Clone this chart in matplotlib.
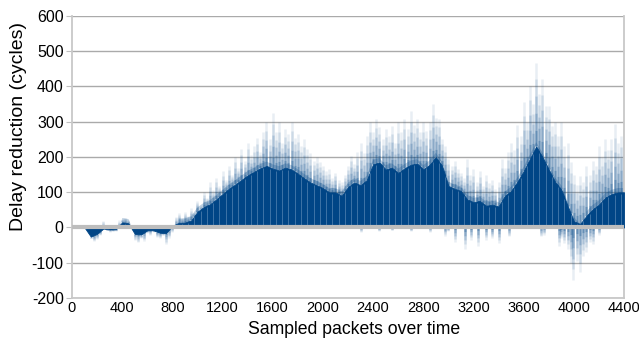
import numpy as np
import matplotlib
matplotlib.use("Agg")
import matplotlib.pyplot as plt
from matplotlib.collections import LineCollection

# ---------------- data ----------------
core_step = 50
core_vals = [0, 0, 0, -26, -18, -3, -6, -5, 15, 12,
             -18, -20, -8, -8, -15, -16, 5, 13, 14, 20,
             45, 58, 66, 80, 95, 110, 122, 135, 148, 158,
             168, 175, 167, 162, 170, 165, 153, 140, 128, 120,
             112, 100, 100, 90, 115, 128, 120, 135, 180, 185,
             165, 170, 155, 168, 178, 182, 165, 178, 200, 175,
             118, 110, 104, 80, 72, 76, 62, 65, 60, 90,
             104, 130, 160, 195, 230, 200, 165, 130, 108, 62,
             18, 10, 33, 52, 65, 85, 95, 100, 100]

spike_step = 25
spike_vals = [0, 0, 0, 0, 0, -4, -30, -38, -33, -22,
              18, -8, -12, -10, -9, 20, 24, 28, 20, 8,
              -35, -42, -30, -38, -15, -20, -12, -28, -30, -22,
              -46, -30, -12, 30, 40, 28, 45, 32, 55, 42,
              75, 60, 100, 85, 128, 105, 140, 118, 160, 135,
              175, 150, 200, 170, 222, 190, 240, 205, 230, 255,
              215, 270, 298, 250, 326, 270, 298, 240, 280, 265,
              300, 255, 265, 232, 250, 222, 210, 189, 200, 185,
              175, 160, 165, 140, 156, 135, 128, 150, 175, 204,
              180, 215, 241, 210, 260, 298, 270, 308, 285, 250,
              279, 260, 289, 240, 298, 270, 308, 280, 331, 290,
              308, 270, 298, 275, 300, 350, 310, 308, 251, 230,
              194, 175, 190, 166, 156, 140, 194, 150, 166, 130,
              160, 119, 150, 125, 135, 110, 128, 194, 170, 215,
              241, 220, 290, 260, 355, 300, 402, 350, 468, 380,
              421, 345, 345, 289, 300, 260, 298, 230, 241, 185,
              150, 120, 147, 130, 175, 150, 190, 175, 232, 200,
              251, 220, 250, 293, 240, 260, 280]

neg_x = [2300, 2450, 2550, 2700, 2850, 2975, 3000, 3050, 3133, 3180,
         3236, 3300, 3350, 3400, 3480, 3740, 3760, 3880, 3900, 3925,
         3950, 3975, 3995, 4025, 4050, 4075, 4100, 4125, 4150, 4200]
neg_v = [-12, -10, -8, -10, -12, -23, -10, -40, -60, -35,
         -52, -35, -30, -45, -25, -25, -20, -52, -30, -45,
         -60, -100, -148, -95, -127, -80, -70, -40, -47, -20]

x_ticks = [0, 400, 800, 1200, 1600, 2000, 2400, 2800, 3200, 3600, 4000, 4400]
y_ticks = [-200, -100, 0, 100, 200, 300, 400, 500, 600]

x_label = "Sampled packets over time"
y_label = "Delay reduction (cycles)"

# ---------------- drawing ----------------
plt.rcParams['font.family'] = ['Liberation Sans', 'DejaVu Sans']
BLUE = '#004586'
GRID = '#aaaaaa'

fig = plt.figure(figsize=(6.39, 3.38), dpi=100)
ax = fig.add_axes([72/639, 1-298/338, (624-72)/639, (298-16)/338])

xc = np.arange(len(core_vals)) * core_step
yc = np.array(core_vals, dtype=float)
xs = np.arange(len(spike_vals)) * spike_step
ys = np.array(spike_vals, dtype=float)
base = np.interp(xs, xc, yc)

# soft halo just above the positive core
ax.fill_between(xc, yc, yc + 12, where=yc > 10, interpolate=True,
                color=BLUE, alpha=0.25, lw=0, zorder=2)

# fading spikes above / below the core
alphas = [0.6, 0.46, 0.33, 0.2, 0.09]
nseg = len(alphas)
segs, cols = [], []
def add_spike(x, lo, t):
    edges = np.linspace(lo, t, nseg + 1)
    for k in range(nseg):
        segs.append([(x, edges[k]), (x, edges[k + 1])])
        cols.append(matplotlib.colors.to_rgba(BLUE, alphas[k]))

for x, b, t in zip(xs, base, ys):
    lo = max(b, 0) if t >= 0 else min(b, 0)
    if abs(t) > abs(lo):
        add_spike(x, lo, t)
for x, t in zip(neg_x, neg_v):
    add_spike(x, 0, t)
ax.add_collection(LineCollection(segs, colors=cols, linewidths=1.8,
                                 capstyle='butt', zorder=2.5))

# dense core
ax.fill_between(xc, 0, yc, color=BLUE, lw=0.6, edgecolor=BLUE, zorder=3)

# light stripes inside the core
stripes = []
for x, b in zip(xs[1::2], base[1::2]):
    if b > 8:
        stripes.append([(x, 0), (x, b - 4)])
ax.add_collection(LineCollection(stripes, colors=[(0.8, 0.87, 0.95, 0.35)],
                                 linewidths=0.6, zorder=4))

# zero band
ax.axhline(0, color='#bdbdbd', lw=3.0, zorder=5)

ax.set_xlim(0, 4400)
ax.set_ylim(-200, 600)
ax.set_xticks(x_ticks)
ax.set_xticklabels([str(v) for v in x_ticks], fontsize=10.5)
ax.set_yticks(y_ticks)
ax.set_yticklabels([str(v) for v in y_ticks], fontsize=11.5)
ax.yaxis.grid(True, color=GRID, lw=1.0, zorder=1)
ax.set_axisbelow(True)
ax.tick_params(axis='x', length=0, pad=2)
ax.tick_params(axis='y', length=4, color='#c0c0c0', pad=2)
for s in ['left', 'right', 'bottom']:
    ax.spines[s].set_color('#c8c8c8')
    ax.spines[s].set_linewidth(1.3)
ax.spines['top'].set_visible(False)

ax.set_xlabel(x_label, fontsize=12.7)
ax.xaxis.set_label_coords((354.5 - 72) / 552, -(330 - 298) / 282)
ax.xaxis.label.set_va('center')
ax.set_ylabel(y_label, fontsize=14)
ax.yaxis.set_label_coords(-(72 - 19) / 552, (298 - 126.5) / 282)
ax.yaxis.label.set_va('center')

fig.savefig("out.png", dpi=100)
